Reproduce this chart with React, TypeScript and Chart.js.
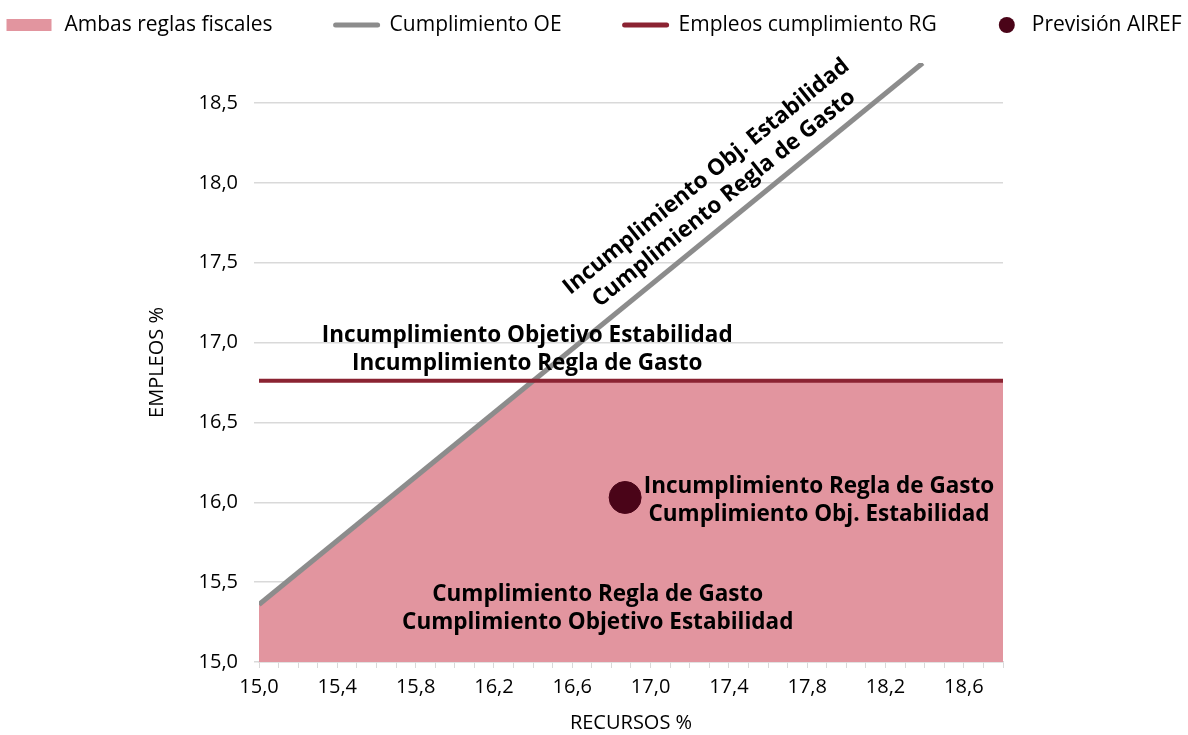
import React, { useEffect, useRef } from 'react';
import { Chart, registerables } from 'chart.js';

Chart.register(...registerables);

// ---- data ----
const seriesNames = ['Ambas reglas fiscales', 'Cumplimiento OE', 'Empleos cumplimiento RG', 'Previsión AIREF'];
const fillX = [15.0, 16.4, 18.8];
const fillY = [15.36, 16.76, 16.76];
const oeX = [15.0, 18.39];
const oeY = [15.36, 18.75];
const rgX = [15.0, 18.8];
const rgY = [16.76, 16.76];
const airefX = [16.87];
const airefY = [16.03];
const xTickLabels = ['15,0', '15,4', '15,8', '16,2', '16,6', '17,0', '17,4', '17,8', '18,2', '18,6'];
const yTickLabels = ['15,0', '15,5', '16,0', '16,5', '17,0', '17,5', '18,0', '18,5'];
const xMin = 15.0;
const xMax = 18.8;
const yMin = 15.0;
const yMax = 18.75;
const xMinorStep = 0.1;

const annotations = [
  { lines: ['Incumplimiento Objetivo Estabilidad', 'Incumplimiento Regla de Gasto'], x: 16.37, y: 16.955, angle: 0 },
  { lines: ['Incumplimiento Regla de Gasto', 'Cumplimiento Obj. Estabilidad'], x: 17.86, y: 16.008, angle: 0 },
  { lines: ['Cumplimiento Regla de Gasto', 'Cumplimiento Objetivo Estabilidad'], x: 16.73, y: 15.335, angle: 0 },
  { lines: ['Incumplimiento Obj. Estabilidad', 'Cumplimiento Regla de Gasto'], x: 17.33, y: 17.97, angle: -39 },
];

const FONT = '"Open Sans", Lato, sans-serif';
const PINK = '#e2959f';
const GRAY = '#8c8c8c';
const RED = '#8b2332';
const DARK = '#4a0418';
const GRID = '#d9d9d9';

const toNum = (s: string) => parseFloat(s.replace(',', '.'));
const fmt = (v: number) => v.toFixed(1).replace('.', ',');

const xMajor = xTickLabels.map(toNum);
const yMajor = yTickLabels.map(toNum);
const xMinor: number[] = [];
for (let i = 0; xMin + i * xMinorStep <= xMax + 1e-9; i++) xMinor.push(Math.round((xMin + i * xMinorStep) * 10) / 10);

const legendPlugin = {
  id: 'customLegend',
  afterDraw(chart: any) {
    const ctx = chart.ctx;
    ctx.save();
    ctx.font = `21px ${FONT}`;
    ctx.textBaseline = 'middle';
    const markerW = [45, 46, 46, 18];
    const textGap = [13, 10, 10, 16];
    const gap = 61;
    const widths = seriesNames.map((n, i) => markerW[i] + textGap[i] + ctx.measureText(n).width);
    const total = widths.reduce((a, b) => a + b, 0) + gap * (seriesNames.length - 1);
    let x = (chart.width - total) / 2;
    const cy = 25;
    seriesNames.forEach((name, i) => {
      if (i === 0) {
        ctx.fillStyle = PINK;
        ctx.fillRect(x, cy - 6, markerW[i], 12);
      } else if (i === 1 || i === 2) {
        ctx.strokeStyle = i === 1 ? GRAY : RED;
        ctx.lineWidth = 5;
        ctx.lineCap = 'round';
        ctx.beginPath();
        ctx.moveTo(x + 2, cy);
        ctx.lineTo(x + markerW[i] - 2, cy);
        ctx.stroke();
      } else {
        ctx.fillStyle = DARK;
        ctx.beginPath();
        ctx.arc(x + markerW[i] / 2, cy, 8, 0, Math.PI * 2);
        ctx.fill();
      }
      ctx.fillStyle = '#000';
      ctx.textAlign = 'left';
      ctx.fillText(name, x + markerW[i] + textGap[i], cy);
      x += widths[i] + gap;
    });
    ctx.restore();
  },
};

const annotationPlugin = {
  id: 'zoneText',
  afterDatasetsDraw(chart: any) {
    const ctx = chart.ctx;
    const xs = chart.scales.x;
    const ys = chart.scales.y;
    ctx.save();
    ctx.font = `bold 22.5px ${FONT}`;
    ctx.fillStyle = '#000';
    ctx.textAlign = 'center';
    ctx.textBaseline = 'middle';
    const lh = 28;
    annotations.forEach((a) => {
      const px = xs.getPixelForValue(a.x);
      const py = ys.getPixelForValue(a.y);
      ctx.save();
      ctx.translate(px, py);
      ctx.rotate((a.angle * Math.PI) / 180);
      const n = a.lines.length;
      a.lines.forEach((t, i) => {
        ctx.fillText(t, 0, (i - (n - 1) / 2) * lh);
      });
      ctx.restore();
    });
    ctx.restore();
  },
};

export default function App() {
  const ref = useRef<HTMLCanvasElement | null>(null);
  useEffect(() => {
    document.body.style.margin = '0';
    if (!ref.current) return;
    const pts = (xs: number[], ys: number[]) => xs.map((x, i) => ({ x, y: ys[i] }));
    const chart = new Chart(ref.current, {
      type: 'line',
      data: {
        datasets: [
          {
            label: seriesNames[3],
            type: 'scatter',
            data: pts(airefX, airefY),
            backgroundColor: DARK,
            borderColor: DARK,
            pointRadius: 16,
            order: 0,
          } as any,
          {
            label: seriesNames[2],
            data: pts(rgX, rgY),
            borderColor: RED,
            borderWidth: 4,
            pointRadius: 0,
            fill: false,
            order: 1,
          },
          {
            label: seriesNames[1],
            data: pts(oeX, oeY),
            borderColor: GRAY,
            borderWidth: 5,
            pointRadius: 0,
            fill: false,
            order: 2,
          },
          {
            label: seriesNames[0],
            data: pts(fillX, fillY),
            borderWidth: 0,
            borderColor: 'rgba(0,0,0,0)',
            backgroundColor: PINK,
            pointRadius: 0,
            fill: 'start',
            order: 3,
          },
        ],
      },
      options: {
        animation: false,
        responsive: true,
        maintainAspectRatio: false,
        layout: { padding: { top: 63, right: 185, bottom: 0, left: 0 } },
        plugins: { legend: { display: false }, tooltip: { enabled: false } },
        scales: {
          x: {
            type: 'linear',
            min: xMin,
            max: xMax,
            afterBuildTicks: (s: any) => {
              s.ticks = xMinor.map((v) => ({ value: v }));
            },
            afterFit: (s: any) => {
              s.height = 73;
            },
            ticks: {
              autoSkip: false,
              maxRotation: 0,
              padding: 7,
              color: '#000',
              font: { family: FONT, size: 20 },
              callback: (v: any) => (xMajor.some((m) => Math.abs(m - v) < 1e-6) ? fmt(v) : ''),
            },
            grid: { drawOnChartArea: false, drawTicks: true, tickLength: 6, color: GRID, lineWidth: 1 },
            border: { display: true, color: GRID, width: 1.5 },
            title: {
              display: true,
              text: 'RECURSOS %',
              color: '#000',
              font: { family: FONT, size: 20 },
              padding: { top: 0, bottom: 0 },
            },
          },
          y: {
            type: 'linear',
            min: yMin,
            max: yMax,
            afterBuildTicks: (s: any) => {
              s.ticks = yMajor.map((v) => ({ value: v }));
            },
            afterFit: (s: any) => {
              s.width = 259;
            },
            ticks: {
              padding: 16,
              color: '#000',
              font: { family: FONT, size: 20 },
              callback: (v: any) => fmt(v),
            },
            grid: { color: GRID, lineWidth: 1.5, tickLength: 5 },
            border: { display: false },
            title: {
              display: true,
              text: 'EMPLEOS %',
              color: '#000',
              font: { family: FONT, size: 20 },
              padding: { top: 145, bottom: 0 },
            },
          },
        },
      } as any,
      plugins: [annotationPlugin, legendPlugin],
    });
    return () => chart.destroy();
  }, []);
  return (
    <div style={{ position: 'relative', width: 1188, height: 735 }}>
      <canvas ref={ref} />
    </div>
  );
}
